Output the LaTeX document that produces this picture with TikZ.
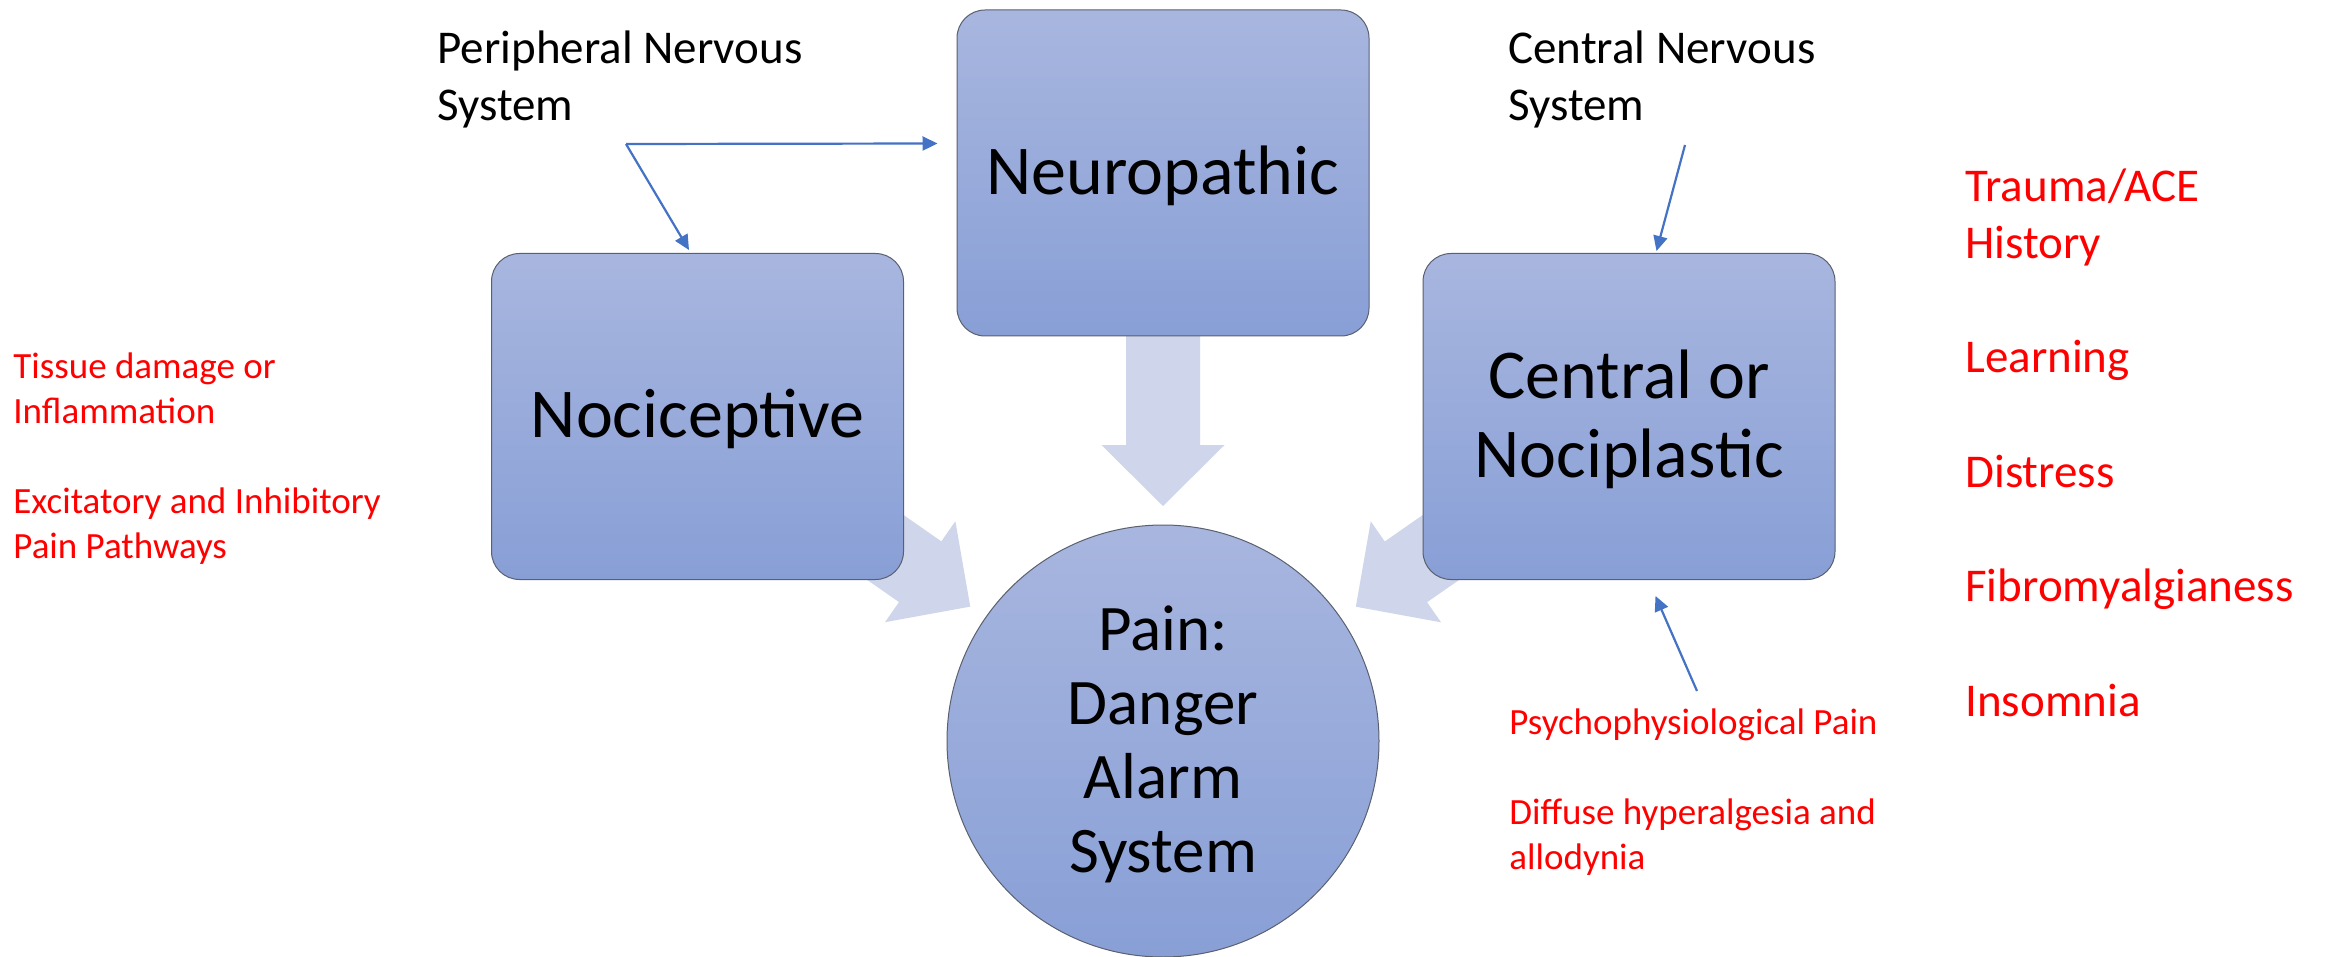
\documentclass[tikz,border=0pt]{standalone}
\usepackage{fontspec}
\setmainfont{Carlito}
\usetikzlibrary{arrows.meta,calc,backgrounds}

\definecolor{boxtop}{RGB}{168,182,223}
\definecolor{boxbot}{RGB}{136,159,214}
\definecolor{fatarrow}{RGB}{207,213,234}
\definecolor{linkblue}{RGB}{68,114,196}
\definecolor{edgegray}{RGB}{90,96,110}
\definecolor{notered}{RGB}{255,0,0}

\tikzset{
  typebox/.style={rectangle, rounded corners=14pt, draw=edgegray, line width=0.5pt,
    top color=boxtop, bottom color=boxbot, minimum width=206pt, minimum height=163pt,
    inner sep=0pt, align=center, font=\fontsize{35pt}{39.5pt}\selectfont},
  hub/.style={circle, draw=edgegray, line width=0.5pt, top color=boxtop,
    bottom color=boxbot, minimum size=216pt, inner sep=0pt, align=center,
    font=\fontsize{32.5pt}{37pt}\selectfont},
  % multi-line notes are placed by the baseline of their last line
  blacknote/.style={anchor=base west, inner sep=0pt, align=left,
    font=\fontsize{23.5pt}{28.6pt}\selectfont},
  bignote/.style={anchor=base west, inner sep=0pt, align=left, text=notered,
    font=\fontsize{23.5pt}{28.6pt}\selectfont},
  smallnote/.style={anchor=base west, inner sep=0pt, align=left, text=notered,
    font=\fontsize{18.5pt}{22.5pt}\selectfont},
  link/.style={draw=linkblue, line width=1.1pt, -{Triangle[length=7.5pt,width=7pt]}},
}

\begin{document}
\begin{tikzpicture}[x=0.5pt,y=-0.5pt]
\path[use as bounding box] (0,0) rectangle (2330,957);

% the three pain types and the central alarm
\node[typebox] (neuro) at (1163,173) {\rule{0pt}{27pt}Neuropathic};
\node[typebox] (noci) at (697.5,416.5) {\rule{0pt}{27pt}Nociceptive};
\node[typebox] (cent) at (1629,416.5) {\rule{0pt}{27pt}Central or\\Nociplastic};
\node[hub] (pain) at (1163,741) {\rule{0pt}{26pt}Pain:\\Danger\\Alarm\\System};

% broad converging arrows, drawn behind the boxes
\begin{pgfonlayer}{background}
\fill[white] (0,0) rectangle (2330,957);
\foreach \src in {noci,neuro,cent}{
  \fill[fatarrow] let \p1=(\src.center), \p2=(pain.center),
      \n1={atan2(\y1-\y2,\x1-\x2)} in
    {[shift={(\p2)}, rotate=\n1]
      (117.5pt,0pt) -- (148pt,30.75pt) -- (148pt,18.5pt) -- (260pt,18.5pt)
      -- (260pt,-18.5pt) -- (148pt,-18.5pt) -- (148pt,-30.75pt) -- cycle};
}
\end{pgfonlayer}

% nervous system labels and their pointers
\node[blacknote] (pnslabel) at (437,121) {Peripheral Nervous\\System};
\node[blacknote] (cnslabel) at (1508,121) {Central Nervous\\System};

\coordinate (pns) at (626,144);
\coordinate (cns) at (1685,145);
\coordinate (psy) at (1697,691);
\draw[link] (pns) -- ($(neuro.north west)+(-19,134)$);
\draw[link] (pns) -- ($(noci.north west)+(198,-3)$);
\draw[link] (cns) -- ($(cent.north west)+(234,-2)$);
\draw[link] (psy) -- ($(cent.south west)+(233,16)$);

% contributing factors
\node[smallnote] (tissue) at (13,558)
  {Tissue damage or\\Inflammation\\[22.5pt]Excitatory and Inhibitory\\Pain Pathways};
\node[smallnote] (psych) at (1509,869)
  {Psychophysiological Pain\\[22.5pt]Diffuse hyperalgesia and\\allodynia};
\node[bignote] (risk) at (1965,716)
  {Trauma/ACE\\History\\[28.6pt]Learning\\[28.6pt]Distress\\[28.6pt]Fibromyalgianess\\[28.6pt]Insomnia};
\end{tikzpicture}
\end{document}
